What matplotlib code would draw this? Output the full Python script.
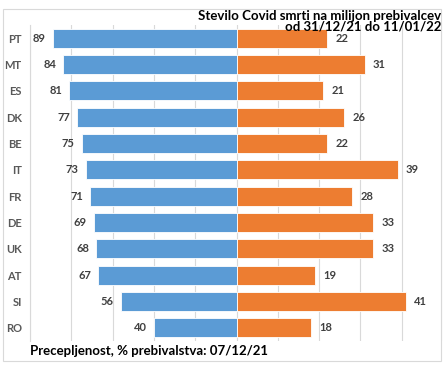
import numpy as np
from matplotlib import pyplot as plt
from matplotlib.patches import Rectangle

# podatki
drzave = ['PT', 'MT', 'ES', 'DK', 'BE', 'IT', 'FR', 'DE', 'UK', 'AT', 'SI', 'RO']
precepljenost = [89, 84, 81, 77, 75, 73, 71, 69, 68, 67, 56, 40]
smrti = [22, 31, 21, 26, 22, 39, 28, 33, 33, 19, 41, 18]

modra = '#5B9BD5'
oranzna = '#ED7D31'
plt.rcParams['font.family'] = ['Lato', 'DejaVu Sans']

W, H = 444, 365
fig = plt.figure(figsize=(W / 100, H / 100), dpi=100)
fig.patch.set_facecolor('white')
fig.patches.append(Rectangle((3 / W, 4 / H), 438 / W, 352 / H, transform=fig.transFigure,
                             fill=False, edgecolor='#D9D9D9', linewidth=0.8))

ax = fig.add_axes([30 / W, (H - 341) / H, 413 / W, 316 / H])
y = np.arange(len(drzave))
levo = -np.array(precepljenost)
desno = 2 * np.array(smrti)  # desna stran je v drugem merilu
ax.barh(y, levo, height=0.71, color=modra, edgecolor='white', linewidth=0.6, zorder=3)
ax.barh(y, desno, height=0.71, color=oranzna, edgecolor='white', linewidth=0.6, zorder=3)

for i in range(len(drzave)):
    ax.annotate(str(precepljenost[i]), (levo[i], y[i]), xytext=(-5, 0), textcoords='offset points',
                ha='right', va='center', fontsize=8, fontweight='bold', color='#404040')
    ax.annotate(str(smrti[i]), (desno[i], y[i]), xytext=(6, 0), textcoords='offset points',
                ha='left', va='center', fontsize=8, fontweight='bold', color='#404040')

ax.set_xlim(-100, 100)
ax.set_ylim(len(drzave) - 0.5, -0.5)
ax.set_xticks(np.arange(-100, 101, 20))
ax.xaxis.grid(True, color='#D9D9D9', linewidth=0.8, zorder=0)
ax.tick_params(axis='x', length=0, labelbottom=False)
ax.set_yticks(y)
ax.set_yticklabels(drzave, fontsize=8, fontweight='bold', color='#595959')
ax.tick_params(axis='y', length=0, pad=6)
for s in ['top', 'right', 'bottom']:
    ax.spines[s].set_visible(False)
ax.spines['left'].set_color('#D9D9D9')

fig.text(441 / W, (H - 10) / H, 'Stevilo Covid smrti na milijon prebivalcev\nod 31/12/21 do 11/01/22',
         ha='right', va='top', fontsize=9.5, fontweight='bold', color='black', linespacing=0.85)
fig.text(30 / W, (H - 351) / H, 'Precepljenost, % prebivalstva: 07/12/21',
         ha='left', va='center', fontsize=9.5, fontweight='bold', color='black')

fig.savefig('out.png', dpi=100)
